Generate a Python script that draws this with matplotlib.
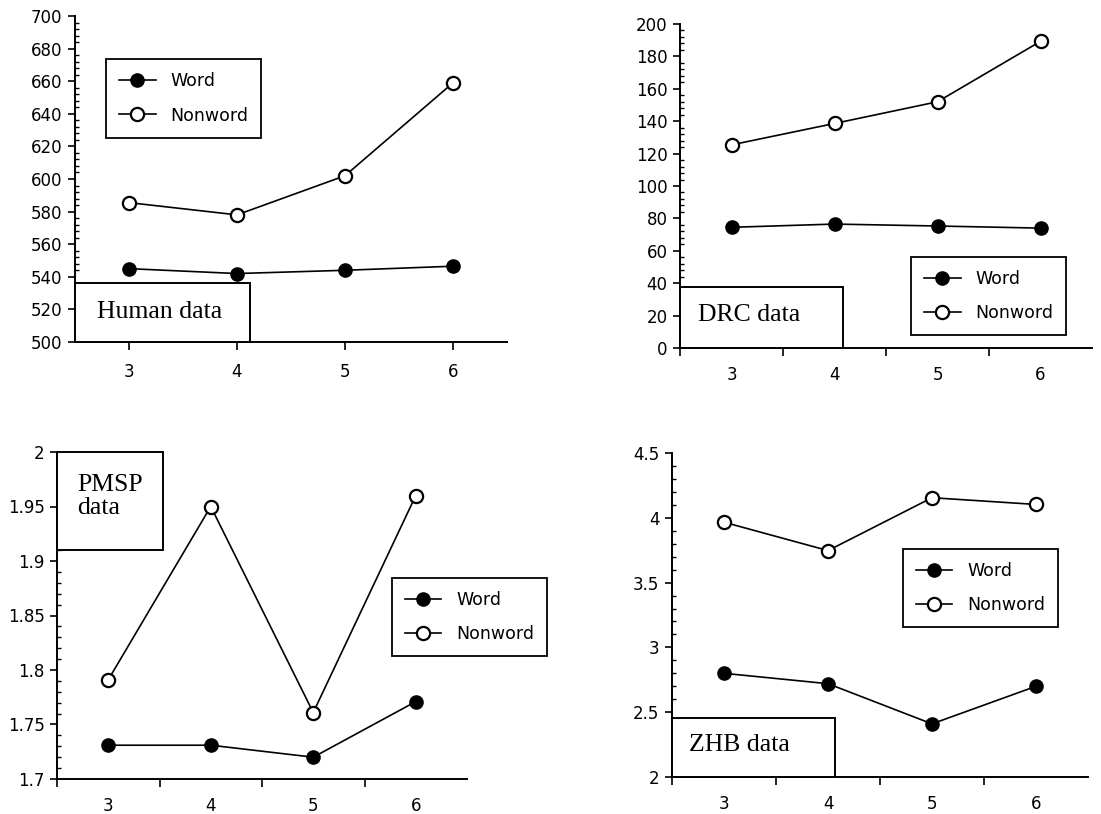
import matplotlib
matplotlib.use('Agg')
from matplotlib import pyplot as plt
from matplotlib.patches import Rectangle
from matplotlib.ticker import MultipleLocator, FormatStrFormatter

# list lengths (x axis) shared by all four panels
lengths = [3, 4, 5, 6]

human_word = [545, 542, 544, 546.5]
human_nonword = [585.5, 578, 602, 659]

drc_word = [74.5, 76.5, 75.3, 74]
drc_nonword = [125.4, 138.6, 152, 189.3]

pmsp_word = [1.731, 1.731, 1.72, 1.771]
pmsp_nonword = [1.791, 1.95, 1.761, 1.96]

zhb_word = [2.8, 2.72, 2.41, 2.70]
zhb_nonword = [3.966, 3.747, 4.155, 4.103]

series_labels = ['Word', 'Nonword']

W, H = 1101, 814
fig = plt.figure(figsize=(W / 100, H / 100), dpi=100)
fig.patch.set_facecolor('white')

sans = 'DejaVu Sans'
serif = 'Liberation Serif'


def px_axes(left, right, top, bottom):
    return fig.add_axes([left / W, (H - bottom) / H, (right - left) / W, (bottom - top) / H])


def panel(ax, word, nonword, ylim, ystep, yminor, fmt, half_ticks, leg_anchor,
          box, box_text, text_xy):
    ax.plot(lengths, word, color='black', lw=1.2, marker='o', ms=9.5,
            mfc='black', mec='black', label=series_labels[0], clip_on=False)
    ax.plot(lengths, nonword, color='black', lw=1.2, marker='o', ms=9.5,
            mfc='white', mec='black', mew=1.6, label=series_labels[1], clip_on=False)
    ax.set_xlim(2.5, 6.5)
    ax.set_ylim(*ylim)
    for s in ['top', 'right']:
        ax.spines[s].set_visible(False)
    for s in ['left', 'bottom']:
        ax.spines[s].set_linewidth(1.4)
    ax.yaxis.set_major_locator(MultipleLocator(ystep))
    ax.yaxis.set_minor_locator(MultipleLocator(yminor))
    ax.yaxis.set_major_formatter(FormatStrFormatter(fmt))
    ax.tick_params(axis='y', which='major', direction='out', length=5, width=1.2,
                   pad=4, labelsize=12)
    ax.tick_params(axis='y', which='minor', direction='in', length=3, width=1.0)
    if half_ticks:
        ax.set_xticks(lengths)
        ax.set_xticks([2.5, 3.5, 4.5, 5.5], minor=True)
        ax.tick_params(axis='x', which='major', length=0, pad=13, labelsize=12)
        ax.tick_params(axis='x', which='minor', direction='out', length=6, width=1.2)
    else:
        ax.set_xticks(lengths)
        ax.tick_params(axis='x', which='major', direction='out', length=6, width=1.2,
                       pad=9, labelsize=12)
    for lab in ax.get_xticklabels() + ax.get_yticklabels():
        lab.set_family(sans)

    leg = ax.legend(loc='upper left', bbox_to_anchor=leg_anchor, borderaxespad=0,
                    frameon=True, fancybox=False, edgecolor='black', framealpha=1,
                    handlelength=2.1, handletextpad=0.85, borderpad=0.75,
                    labelspacing=0.95, prop={'family': sans, 'size': 12.5})
    leg.get_frame().set_linewidth(1.3)

    x0, y0, bw, bh = box
    ax.add_patch(Rectangle((x0, y0), bw, bh, transform=ax.transAxes,
                           facecolor='white', edgecolor='black', lw=1.4,
                           clip_on=False, zorder=3))
    ax.text(text_xy[0], text_xy[1], box_text, transform=ax.transAxes,
            family=serif, fontsize=18.5, ha='left', va='center',
            linespacing=1.05, zorder=4)


ax1 = px_axes(75, 507, 16, 342)
panel(ax1, human_word, human_nonword, (500, 700), 20, 4, '%g', False,
      (0.072, 0.868), (0, 0, 0.405, 0.181), 'Human data', (0.051, 0.092))

ax2 = px_axes(680, 1092, 24, 348)
panel(ax2, drc_word, drc_nonword, (0, 200), 20, 4, '%g', True,
      (0.561, 0.281), (0, 0, 0.396, 0.188), 'DRC data', (0.044, 0.102))

ax3 = px_axes(57, 467, 452, 779)
panel(ax3, pmsp_word, pmsp_nonword, (1.7, 2.0), 0.05, 0.01, '%g', True,
      (0.817, 0.615), (0, 0.70, 0.259, 0.30), 'PMSP\ndata', (0.049, 0.865))

ax4 = px_axes(672, 1088, 453, 777)
panel(ax4, zhb_word, zhb_nonword, (2.0, 4.5), 0.5, 0.1, '%g', True,
      (0.555, 0.704), (0, 0, 0.392, 0.182), 'ZHB data', (0.041, 0.099))

fig.savefig('out.png', dpi=100, facecolor='white')
